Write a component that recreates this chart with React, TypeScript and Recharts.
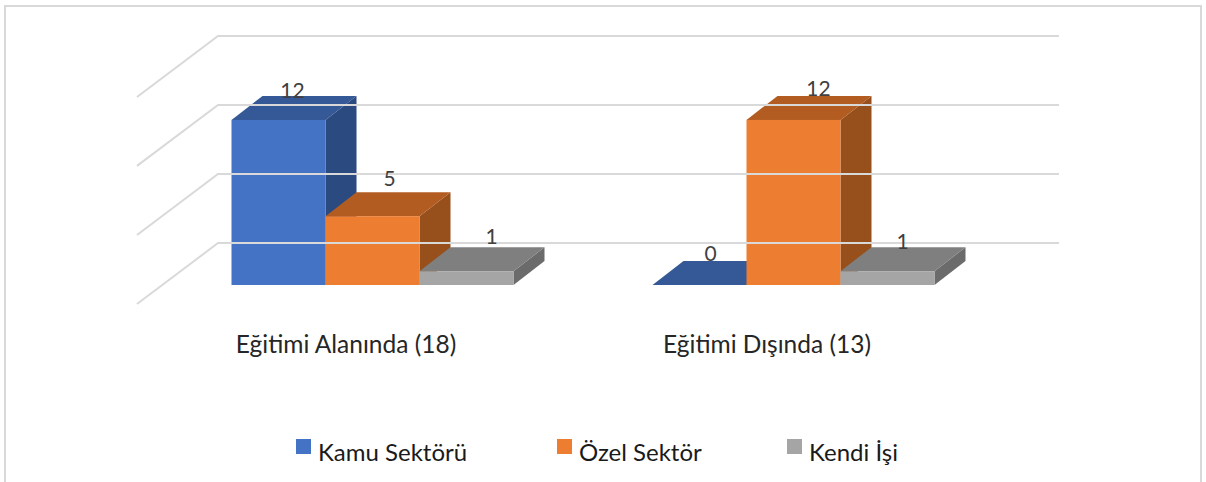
import React from 'react';
import { BarChart, Bar, XAxis, YAxis, ReferenceLine, LabelList, Legend } from 'recharts';

const categories = ['Eğitimi Alanında (18)', 'Eğitimi Dışında (13)'];
const kamuSektoru = [12, 0];
const ozelSektor = [5, 12];
const kendiIsi = [1, 1];
// back wall gridlines sit higher than the bars' floor, so these are read on the bars' scale
const wallLevels = [3.05, 8.07, 13.09, 18.1];

const chartData = categories.map((name, i) => ({
    name,
    kamu: kamuSektoru[i],
    ozel: ozelSektor[i],
    kendi: kendiIsi[i],
}));

const TEXT_FONT = 'Lato, sans-serif';
const GRID = '#D9D9D9';
const DEPTH_X = 31;
const DEPTH_Y = 24;

const BLUE = { front: '#4472C4', top: '#355896', side: '#2A4A80' };
const ORANGE = { front: '#ED7D31', top: '#B25C22', side: '#97501C' };
const GREY = { front: '#A5A5A5', top: '#7F7F7F', side: '#6B6B6B' };

// the hand-nudged data label offsets from the bar's top centre, per category
const KAMU_NUDGE = [[14, -30], [11, -33]];
const OZEL_NUDGE = [[17, -39], [25, -32]];
const KENDI_NUDGE = [[25, -36], [15, -31]];

const Box3D = (colors: { front: string; top: string; side: string }) => (props: any) => {
    const { x, y, width, height } = props;
    const r = x + width;
    const b = y + height;
    return (
        <g>
            <path d={`M${r},${y} L${r + DEPTH_X},${y - DEPTH_Y} L${r + DEPTH_X},${b - DEPTH_Y} L${r},${b} Z`} fill={colors.side} />
            <path d={`M${x},${y} L${x + DEPTH_X},${y - DEPTH_Y} L${r + DEPTH_X},${y - DEPTH_Y} L${r},${y} Z`} fill={colors.top} />
            <rect x={x} y={y} width={width} height={height} fill={colors.front} />
        </g>
    );
};

const WallLine = (props: any) => {
    const { x1, x2, y1 } = props;
    return (
        <path
            d={`M${x1 - 24.5},${y1 + 61} L${x1 + 56.5},${y1} L${x2 + 55.5},${y1}`}
            fill="none"
            stroke={GRID}
            strokeWidth={2}
        />
    );
};

const NudgedLabel = (nudge: number[][]) => (props: any) => {
    const { x, y, width, value, index } = props;
    const [dx, dy] = nudge[index];
    return (
        <text
            x={x + width / 2 + dx}
            y={y + dy}
            textAnchor="middle"
            dominantBaseline="central"
            fontFamily={TEXT_FONT}
            fontSize={21}
            fill="#404040"
        >
            {value}
        </text>
    );
};

const CategoryTick = (props: any) => {
    const { x, y, payload } = props;
    return (
        <text x={x - 26} y={y} textAnchor="middle" dominantBaseline="central" fontFamily={TEXT_FONT} fontSize={24.5} fill="#262626">
            {payload.value}
        </text>
    );
};

const legendItems = [
    { label: 'Kamu Sektörü', color: BLUE.front, left: 296 },
    { label: 'Özel Sektör', color: ORANGE.front, left: 557 },
    { label: 'Kendi İşi', color: GREY.front, left: 787 },
];

const LegendRow = () => (
    <div style={{ position: 'relative', width: 1206, height: 30, fontFamily: TEXT_FONT, fontSize: 24, color: '#1a1a1a' }}>
        {legendItems.map(item => (
            <div key={item.label} style={{ position: 'absolute', left: item.left, top: 0, whiteSpace: 'nowrap' }}>
                <span style={{ position: 'absolute', left: 0, top: 2, width: 15, height: 15, background: item.color }} />
                <span style={{ position: 'absolute', left: 22, top: 2, lineHeight: '26px' }}>{item.label}</span>
            </div>
        ))}
    </div>
);

const App: React.FC = () => (
    <div style={{ position: 'absolute', left: 0, top: 0, width: 1206, height: 482, background: '#fff', overflow: 'hidden' }}>
        <div style={{ position: 'absolute', left: 4, top: 5, width: 1194, height: 490, border: '2px solid #D9D9D9' }} />
        <div style={{ position: 'absolute', left: 0, top: 0 }}>
            <BarChart
                width={1206}
                height={482}
                data={chartData}
                margin={{ top: 36, right: 202.5, bottom: 107, left: 161.5 }}
                barCategoryGap={70}
                barGap={0}
            >
                <XAxis dataKey="name" axisLine={false} tickLine={false} tick={<CategoryTick />} tickMargin={52} height={60} />
                <YAxis yAxisId="bars" domain={[0, 18.1]} hide />
                {wallLevels.map(level => (
                    <ReferenceLine key={level} y={level} yAxisId="bars" shape={<WallLine />} />
                ))}
                <Bar dataKey="kamu" yAxisId="bars" isAnimationActive={false} shape={Box3D(BLUE)}>
                    <LabelList dataKey="kamu" content={NudgedLabel(KAMU_NUDGE)} />
                </Bar>
                <Bar dataKey="ozel" yAxisId="bars" isAnimationActive={false} shape={Box3D(ORANGE)}>
                    <LabelList dataKey="ozel" content={NudgedLabel(OZEL_NUDGE)} />
                </Bar>
                <Bar dataKey="kendi" yAxisId="bars" isAnimationActive={false} shape={Box3D(GREY)}>
                    <LabelList dataKey="kendi" content={NudgedLabel(KENDI_NUDGE)} />
                </Bar>
                <Legend content={<LegendRow />} wrapperStyle={{ left: 0, top: 437, width: 1206 }} />
            </BarChart>
        </div>
    </div>
);

export default App;
